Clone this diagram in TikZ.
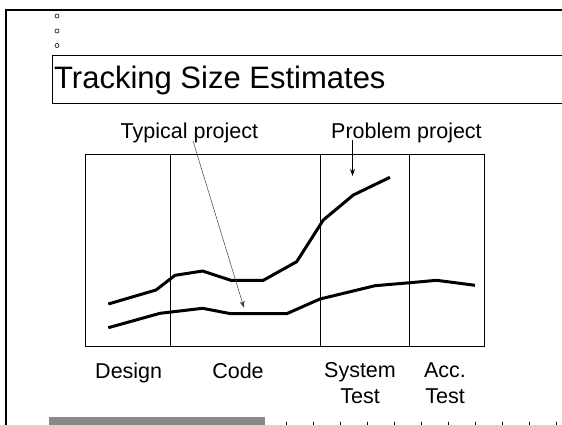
\documentclass[tikz,border=0pt]{standalone}
\usepackage{fontspec}
\setmainfont{Liberation Sans}
\usetikzlibrary{arrows.meta}
\definecolor{barGray}{HTML}{888888}

\begin{document}
\begin{tikzpicture}
[x=1pt,y=-1pt,
  frameDecorate/.style={line width=2pt},
  boxDecorate/.style={line width=0.9pt},
  curveDecorate/.style={line width=3pt,line join=round},
  pointerDecorate/.style={-{Stealth[length=7pt,width=5pt]}},
  labelDecorate/.style={inner sep=0pt,font=\fontsize{21.5}{26}\selectfont,align=center}]
\useasboundingbox (0,0) rectangle (562,424);
\clip (0,0) rectangle (562,424);
%% slide frame, bullets and title
\draw[frameDecorate] (6,440) -- (6,10) -- (580,10);
\foreach \y in {16,31,45.5} {
  \draw[line width=0.6pt] (57,\y) circle (2pt);
}
\draw[line width=0.7pt] (52.5,55) rectangle (580,103);
\node (title) at (54,88) [anchor=base west,inner sep=0pt,font=\fontsize{31}{36}\selectfont] {Tracking Size Estimates};
%% chart frame and phase dividers
\draw[boxDecorate] (85.7,154.3) rectangle (484.3,346);
\foreach \x in {170.3,320.3,409.3} {
  \draw[boxDecorate] (\x,154.3) -- (\x,346);
}
%% size curves
\draw[curveDecorate] plot coordinates {(108.3,304) (156,290) (175,275.3) (202.7,271)
  (230.7,280.3) (263.3,280.3) (296.7,261.7) (323.3,220) (353.3,195) (390,177.3)};
\draw[curveDecorate] plot coordinates {(108.3,327.7) (160,313.3) (202.7,308.3) (230.7,313.7)
  (286.7,313.7) (320,299) (375,285.7) (410,282.7) (436.7,280.3) (475,285.3)};
%% labels and pointers
\node (typical) at (120.5,138) [labelDecorate,anchor=base west] {Typical project};
\node (problem) at (331,138) [labelDecorate,anchor=base west] {Problem project};
\coordinate (typicalTip) at (244,307.7);
\coordinate (problemTip) at (352.5,176);
\draw[pointerDecorate,line width=0.5pt,black!75] ([xshift=3.5pt,yshift=2pt]typical.south) -- (typicalTip);
\draw[pointerDecorate,line width=0.9pt] ([yshift=2.5pt]problemTip |- problem.south) -- (problemTip);
%% phase names
\foreach \name/\x/\txt in {design/128.7/Design, code/238/Code, system/360/System\\Test, acc/445/Acc.\\Test} {
  \node (\name) at (\x,362.4) [labelDecorate,anchor=north] {\txt};
}
%% footer
\fill[barGray] (48.5,417.3) rectangle (264.5,440);
\foreach \x in {286,313,...,556} {
  \draw[line width=0.8pt] (\x,421.5) -- (\x,430);
}
\end{tikzpicture}
\end{document}
